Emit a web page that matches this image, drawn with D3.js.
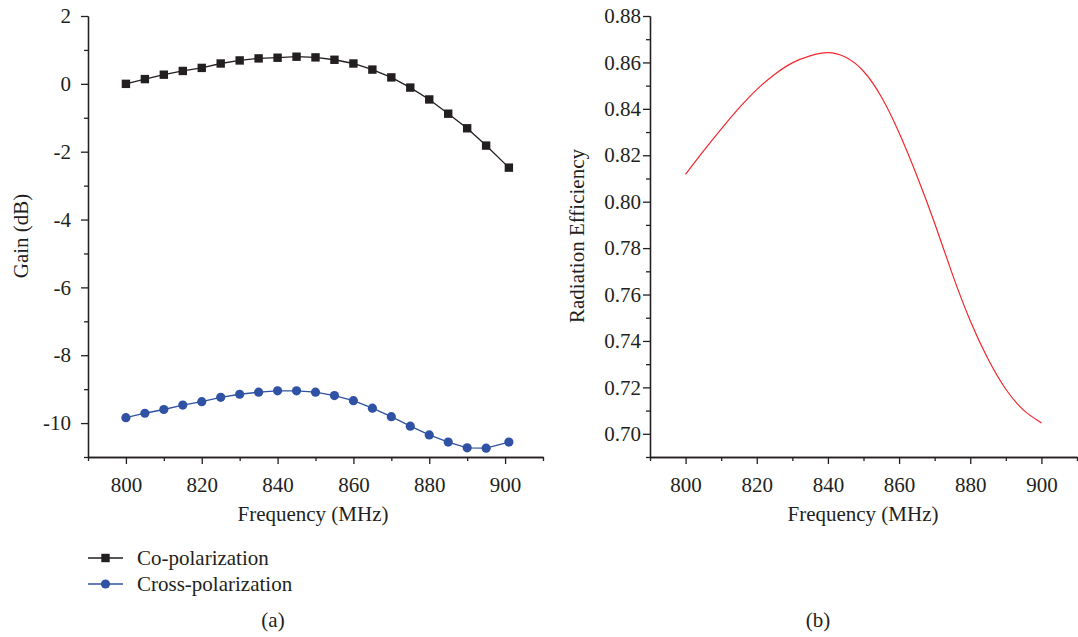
<!DOCTYPE html>
<html>
<head>
<meta charset="utf-8">
<script src="https://cdn.jsdelivr.net/npm/d3@7/dist/d3.min.js"></script>
<style>
	body { margin: 0; background: #fff; }
	svg text { font-family: "Liberation Serif", "Times New Roman", serif; fill: #231f20; }
</style>
</head>
<body onload="onLoad()">
<div></div>
<script>
var gainFreqs = [800, 805, 810, 815, 820, 825, 830, 835, 840, 845, 850, 855, 860, 865, 870, 875, 880, 885, 890, 895, 901];
var coPolGain = [0.0, 0.14, 0.27, 0.38, 0.47, 0.6, 0.69, 0.75, 0.77, 0.8, 0.78, 0.71, 0.6, 0.42, 0.19, -0.11, -0.46, -0.88, -1.31, -1.82, -2.47];
var crossPolGain = [-9.84, -9.71, -9.6, -9.47, -9.37, -9.24, -9.15, -9.09, -9.05, -9.05, -9.09, -9.19, -9.34, -9.56, -9.81, -10.09, -10.35, -10.56, -10.73, -10.74, -10.56];

var effFreqs = [800, 805, 810, 815, 820, 825, 830, 835, 840, 845, 850, 855, 860, 865, 870, 875, 880, 885, 890, 895, 900];
var radEfficiency = [0.8118, 0.8218, 0.8313, 0.8403, 0.8483, 0.8548, 0.8598, 0.8628, 0.8642, 0.8622, 0.8562, 0.8452, 0.8297, 0.8112, 0.7907, 0.7687, 0.7487, 0.7322, 0.7192, 0.7102, 0.7047];

var freqTicks = [800, 820, 840, 860, 880, 900],
	freqMinorTicks = [790, 810, 830, 850, 870, 890, 910];
var gainTicks = [-10, -8, -6, -4, -2, 0, 2],
	gainMinorTicks = [-11, -9, -7, -5, -3, -1, 1];
var effTicks = [0.70, 0.72, 0.74, 0.76, 0.78, 0.80, 0.82, 0.84, 0.86, 0.88],
	effMinorTicks = [0.69, 0.71, 0.73, 0.75, 0.77, 0.79, 0.81, 0.83, 0.85, 0.87];

var seriesNames = ["Co-polarization", "Cross-polarization"];
var panelLabels = ["(a)", "(b)"];

var svgContainer,
	inkColor = "#231f20",
	blueColor = "#2f52a4",
	redColor = "#f0282d",
	fontSize = 21;

function onLoad() {
	svgContainer = d3.select("div")
	.append("svg")
	.attr("width", 1078)
	.attr("height", 637);

	drawGainPanel();
	drawEfficiencyPanel();
}

// plain hyphen instead of d3's unicode minus, like the original figure
function hyphenFormat(spec) {
	var f = d3.format(spec);
	return function (d) { return f(d).replace("\u2212", "-"); };
}

///////////////////////////////////
////////////PANEL (A)//////////////
///////////////////////////////////

function drawGainPanel() {
	var xScale = d3.scaleLinear().domain([790, 910]).range([88, 543]);
	var yScale = d3.scaleLinear().domain([-11, 2]).range([457, 16]);

	drawAxes(xScale, yScale, freqTicks, freqMinorTicks, gainTicks, gainMinorTicks, hyphenFormat("d"), 10);

	var line = d3.line()
	.x(function (d, i) { return xScale(gainFreqs[i]); })
	.y(function (d) { return yScale(d); });

	svgContainer.append("path")
	.attr("d", line(crossPolGain))
	.attr("fill", "none")
	.attr("stroke", blueColor)
	.attr("stroke-width", 1.3);

	svgContainer.append("path")
	.attr("d", line(coPolGain))
	.attr("fill", "none")
	.attr("stroke", inkColor)
	.attr("stroke-width", 1.3);

	svgContainer.selectAll("circle.cross")
	.data(crossPolGain)
	.enter().append("circle")
	.attr("class", "cross")
	.attr("cx", function (d, i) { return xScale(gainFreqs[i]); })
	.attr("cy", function (d) { return yScale(d); })
	.attr("r", 4.6)
	.style("fill", blueColor);

	svgContainer.selectAll("rect.co")
	.data(coPolGain)
	.enter().append("rect")
	.attr("class", "co")
	.attr("x", function (d, i) { return xScale(gainFreqs[i]) - 4.2; })
	.attr("y", function (d) { return yScale(d) - 4.2; })
	.attr("width", 8.4)
	.attr("height", 8.4)
	.style("fill", inkColor);

	drawAxisTitles(313, "Frequency (MHz)", 28, 236, "Gain (dB)");

	// legend
	var legend = svgContainer.append("g").attr("transform", "translate(88,558)");
	seriesNames.forEach(function (name, i) {
		var g = legend.append("g").attr("transform", "translate(0," + (i * 26) + ")");
		var color = i === 0 ? inkColor : blueColor;
		g.append("line")
		.attr("x1", 0).attr("x2", 35)
		.attr("y1", 0).attr("y2", 0)
		.attr("stroke", color)
		.attr("stroke-width", 1.3);
		if (i === 0) {
			g.append("rect").attr("x", 13.3).attr("y", -4.2).attr("width", 8.4).attr("height", 8.4).style("fill", color);
		} else {
			g.append("circle").attr("cx", 17.5).attr("cy", 0).attr("r", 4.6).style("fill", color);
		}
		g.append("text")
		.attr("x", 49)
		.attr("y", 7)
		.style("font-size", fontSize + "px")
		.text(name);
	});

	svgContainer.append("text")
	.attr("x", 273)
	.attr("y", 627)
	.attr("text-anchor", "middle")
	.style("font-size", fontSize + "px")
	.text(panelLabels[0]);
}

///////////////////////////////////
////////////PANEL (B)//////////////
///////////////////////////////////

function drawEfficiencyPanel() {
	var xScale = d3.scaleLinear().domain([790, 910]).range([650, 1077]);
	var yScale = d3.scaleLinear().domain([0.69, 0.88]).range([457, 16]);

	drawAxes(xScale, yScale, freqTicks, freqMinorTicks, effTicks, effMinorTicks, d3.format(".2f"), 2);

	var line = d3.line()
	.curve(d3.curveNatural)
	.x(function (d, i) { return xScale(effFreqs[i]); })
	.y(function (d) { return yScale(d); });

	svgContainer.append("path")
	.attr("d", line(radEfficiency))
	.attr("fill", "none")
	.attr("stroke", redColor)
	.attr("stroke-width", 1.2);

	drawAxisTitles(863, "Frequency (MHz)", 584, 236, "Radiation Efficiency");

	svgContainer.append("text")
	.attr("x", 818)
	.attr("y", 627)
	.attr("text-anchor", "middle")
	.style("font-size", fontSize + "px")
	.text(panelLabels[1]);
}

///////////////////////////////////
////////////DRAWING////////////////
///////////////////////////////////

function drawAxes(xScale, yScale, xTicks, xMinor, yTicks, yMinor, yFormat, yPad) {
	var y0 = yScale.range()[0],
		x0 = xScale.range()[0];

	var xMinorAxis = d3.axisBottom(xScale).tickValues(xMinor).tickSize(4).tickSizeOuter(0).tickFormat("");
	var yMinorAxis = d3.axisLeft(yScale).tickValues(yMinor).tickSize(4).tickSizeOuter(0).tickFormat("");
	var xAxis = d3.axisBottom(xScale).tickValues(xTicks).tickSize(7).tickSizeOuter(0).tickPadding(13).tickFormat(d3.format("d"));
	var yAxis = d3.axisLeft(yScale).tickValues(yTicks).tickSize(7).tickSizeOuter(0).tickPadding(yPad).tickFormat(yFormat);

	[
		{axis: xMinorAxis, t: "translate(0," + y0 + ")"},
		{axis: yMinorAxis, t: "translate(" + x0 + ",0)"},
		{axis: xAxis, t: "translate(0," + y0 + ")"},
		{axis: yAxis, t: "translate(" + x0 + ",0)"}
	].forEach(function (a) {
		var g = svgContainer.append("g")
		.attr("transform", a.t)
		.call(a.axis);
		g.selectAll("path, line").attr("stroke", inkColor).attr("stroke-width", 1.3);
		g.selectAll("text").style("font-size", fontSize + "px").attr("fill", inkColor)
		.style("font-family", "'Liberation Serif', serif");
	});
}

function drawAxisTitles(xCenter, xTitle, yBaseX, yCenter, yTitle) {
	svgContainer.append("text")
	.attr("x", xCenter)
	.attr("y", 521)
	.attr("text-anchor", "middle")
	.style("font-size", fontSize + "px")
	.text(xTitle);

	svgContainer.append("text")
	.attr("transform", "translate(" + yBaseX + "," + yCenter + ") rotate(-90)")
	.attr("text-anchor", "middle")
	.style("font-size", fontSize + "px")
	.text(yTitle);
}
</script>
</body>
</html>
